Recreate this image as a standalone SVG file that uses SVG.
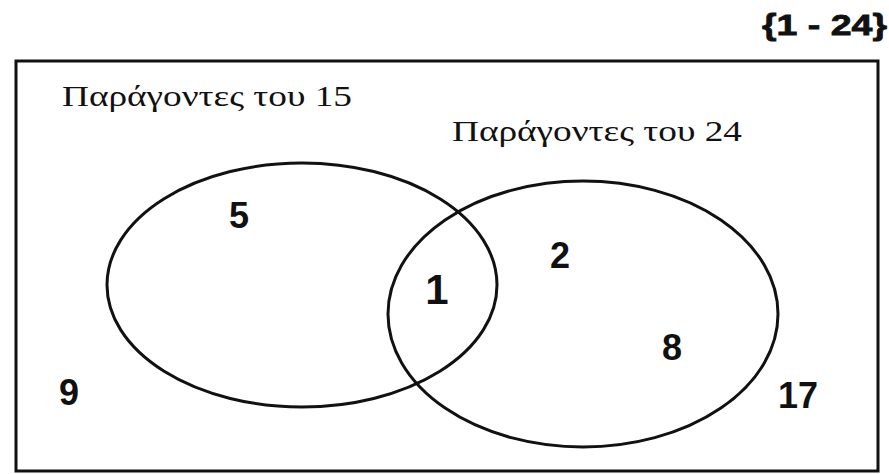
<svg xmlns="http://www.w3.org/2000/svg" width="889" height="474" viewBox="0 0 889 474">
<style>
.line{fill:none;stroke:#111;stroke-width:3}
.num{font-family:"Liberation Sans",Arial,sans-serif;font-weight:bold;font-size:36px;fill:#111;text-anchor:middle}
.lbl{font-family:"Liberation Serif","Times New Roman",serif;font-size:30px;fill:#111}
.title{font-family:"Liberation Sans",Arial,sans-serif;font-weight:bold;font-size:30px;fill:#111;stroke:#111;stroke-width:0.8}
</style>
<rect width="889" height="474" fill="#fff"/>
<g id="title"><text class="title" x="762" y="35" textLength="125" lengthAdjust="spacingAndGlyphs">{1 - 24}</text></g>
<g id="universe"><rect class="line" x="16" y="61" width="862" height="410"/></g>
<g id="set15">
<ellipse class="line" cx="302" cy="285" rx="195" ry="122"/>
<text class="lbl" x="62" y="106" textLength="290" lengthAdjust="spacingAndGlyphs">Παράγοντες του 15</text>
</g>
<g id="set24">
<ellipse class="line" cx="583" cy="314" rx="195" ry="133"/>
<text class="lbl" x="452" y="141" textLength="290" lengthAdjust="spacingAndGlyphs">Παράγοντες του 24</text>
</g>
<g id="elements">
<text class="num" x="239" y="228">5</text>
<text class="num" x="437" y="304" style="font-size:42px">1</text>
<text class="num" x="560" y="268">2</text>
<text class="num" x="672" y="360">8</text>
<text class="num" x="69" y="405">9</text>
<text class="num" x="798" y="408">17</text>
</g>
<g id="connectors"></g>
</svg>
